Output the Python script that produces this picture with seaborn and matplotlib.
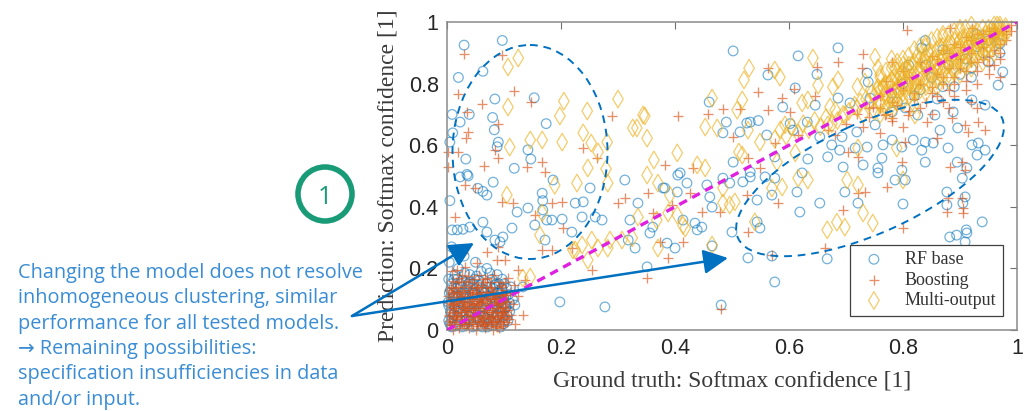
import numpy as np
import pandas as pd
import matplotlib
matplotlib.use("Agg")
import matplotlib.pyplot as plt
import seaborn as sns
from matplotlib.patches import Ellipse, Circle

# --- data: (ground truth, prediction) ---
rf_points = [
    # upper left cloud
    (0.030, 0.925), (0.097, 0.940), (0.020, 0.820), (0.063, 0.840), (0.084, 0.750), (0.153, 0.754),
    (0.009, 0.700), (0.039, 0.700), (0.023, 0.675), (0.080, 0.690), (0.083, 0.650), (0.174, 0.670),
    (0.010, 0.640), (0.005, 0.610), (0.090, 0.610), (0.088, 0.595), (0.142, 0.585), (0.147, 0.555),
    (0.033, 0.555), (0.118, 0.525), (0.035, 0.505), (0.023, 0.497), (0.037, 0.500), (0.081, 0.480),
    (0.063, 0.450), (0.054, 0.460), (0.070, 0.438), (0.005, 0.420), (0.123, 0.383), (0.167, 0.444),
    (0.168, 0.420), (0.063, 0.350), (0.009, 0.325), (0.018, 0.325), (0.028, 0.327), (0.040, 0.334),
    (0.070, 0.318), (0.084, 0.292), (0.098, 0.302), (0.093, 0.286), (0.114, 0.331), (0.154, 0.341),
    (0.175, 0.357), (0.184, 0.357), (0.202, 0.360), (0.225, 0.412), (0.239, 0.416), (0.237, 0.367),
    (0.260, 0.367), (0.272, 0.357), (0.321, 0.357), (0.312, 0.487), (0.172, 0.292), (0.219, 0.318),
    (0.168, 0.390), (0.142, 0.396), (0.198, 0.091), (0.277, 0.075), (0.119, 0.081), (0.110, 0.087),
    (0.133, 0.140), (0.318, 0.292), (0.251, 0.461), (0.186, 0.487), (0.379, 0.461),
    (0.004, 0.220), (0.008, 0.270), (0.030, 0.240), (0.070, 0.200), (0.050, 0.220),
    # lower left cluster
    (0.005, 0.02), (0.012, 0.05), (0.020, 0.11), (0.028, 0.08), (0.035, 0.14), (0.042, 0.03),
    (0.050, 0.10), (0.058, 0.06), (0.065, 0.13), (0.072, 0.02), (0.080, 0.09), (0.088, 0.05),
    (0.095, 0.12), (0.102, 0.07), (0.008, 0.15), (0.015, 0.09), (0.024, 0.03), (0.031, 0.12),
    (0.038, 0.06), (0.046, 0.15), (0.053, 0.04), (0.061, 0.11), (0.068, 0.07), (0.076, 0.14),
    (0.084, 0.03), (0.091, 0.10), (0.099, 0.02), (0.104, 0.11), (0.003, 0.08), (0.011, 0.12),
    (0.019, 0.06), (0.027, 0.16), (0.034, 0.09), (0.044, 0.12), (0.056, 0.16), (0.066, 0.04),
    (0.074, 0.11), (0.086, 0.15), (0.093, 0.06), (0.100, 0.15), (0.006, 0.13), (0.040, 0.18),
    (0.060, 0.19), (0.020, 0.20), (0.088, 0.18), (0.107, 0.03), (0.047, 0.07), (0.079, 0.055),
    (0.016, 0.015), (0.062, 0.01),
    (0.008, 0.010), (0.027, 0.010), (0.045, 0.010), (0.071, 0.010), (0.094, 0.010),
    (0.003, 0.030), (0.031, 0.030), (0.058, 0.030), (0.077, 0.030), (0.101, 0.030),
    (0.018, 0.045), (0.039, 0.045), (0.064, 0.045), (0.089, 0.045), (0.106, 0.045),
    (0.006, 0.060), (0.028, 0.060), (0.051, 0.060), (0.073, 0.060), (0.097, 0.060),
    (0.014, 0.075), (0.036, 0.075), (0.059, 0.075), (0.083, 0.075), (0.104, 0.075),
    (0.002, 0.090), (0.022, 0.090), (0.047, 0.090), (0.069, 0.090), (0.092, 0.090),
    (0.011, 0.105), (0.033, 0.105), (0.056, 0.105), (0.078, 0.105), (0.099, 0.105),
    (0.004, 0.120), (0.025, 0.120), (0.049, 0.120), (0.066, 0.120), (0.088, 0.120),
    (0.016, 0.135), (0.042, 0.135), (0.061, 0.135), (0.081, 0.135), (0.096, 0.135),
    (0.023, 0.150), (0.037, 0.150), (0.069, 0.150), (0.091, 0.150),
    (0.012, 0.165), (0.048, 0.165), (0.079, 0.165),
    (0.009, 0.040), (0.021, 0.070), (0.032, 0.020), (0.043, 0.055), (0.054, 0.085), (0.065, 0.025),
    (0.076, 0.065), (0.087, 0.095), (0.098, 0.045), (0.105, 0.135), (0.013, 0.110), (0.024, 0.140),
    (0.035, 0.035), (0.046, 0.115), (0.057, 0.145), (0.068, 0.095), (0.079, 0.015), (0.090, 0.125),
    (0.101, 0.085), (0.007, 0.055), (0.018, 0.165), (0.029, 0.105), (0.040, 0.155), (0.051, 0.015),
    (0.062, 0.125), (0.073, 0.035), (0.084, 0.145), (0.095, 0.075), (0.003, 0.165), (0.108, 0.115),
    (0.110, 0.060), (0.112, 0.140), (0.115, 0.100), (0.052, 0.175), (0.031, 0.185), (0.075, 0.185),
    (0.097, 0.165), (0.014, 0.180),
    # middle
    (0.502, 0.906), (0.616, 0.890), (0.563, 0.828), (0.649, 0.830), (0.611, 0.786), (0.460, 0.740),
    (0.589, 0.724), (0.646, 0.730), (0.490, 0.675), (0.484, 0.640), (0.526, 0.672), (0.532, 0.675),
    (0.546, 0.680), (0.514, 0.643), (0.561, 0.633), (0.602, 0.670), (0.607, 0.649), (0.632, 0.675),
    (0.654, 0.627), (0.502, 0.545), (0.575, 0.562), (0.633, 0.555), (0.409, 0.510), (0.532, 0.513),
    (0.405, 0.503), (0.421, 0.477), (0.382, 0.461), (0.404, 0.448), (0.335, 0.412), (0.456, 0.471),
    (0.484, 0.493), (0.496, 0.477), (0.519, 0.481), (0.532, 0.497), (0.558, 0.497), (0.575, 0.493),
    (0.570, 0.438), (0.544, 0.422), (0.461, 0.432), (0.465, 0.399), (0.414, 0.357), (0.435, 0.347),
    (0.447, 0.334), (0.439, 0.325), (0.361, 0.334), (0.356, 0.315), (0.386, 0.282), (0.400, 0.266),
    (0.330, 0.266), (0.500, 0.318), (0.544, 0.351), (0.549, 0.331), (0.465, 0.273), (0.528, 0.234),
    (0.575, 0.156), (0.351, 0.205), (0.481, 0.081), (0.614, 0.448), (0.619, 0.383), (0.654, 0.412),
    (0.623, 0.510), (0.570, 0.240),
    # right
    (0.667, 0.231), (0.882, 0.302), (0.894, 0.308), (0.912, 0.315), (0.909, 0.286), (0.939, 0.351),
    (0.800, 0.409), (0.877, 0.406), (0.905, 0.412), (0.698, 0.448), (0.721, 0.412), (0.877, 0.448),
    (0.909, 0.432), (0.911, 0.325), (0.756, 0.510), (0.786, 0.487), (0.804, 0.487), (0.904, 0.493),
    (0.686, 0.916), (0.839, 0.940), (0.833, 0.916), (0.737, 0.834), (0.739, 0.805), (0.686, 0.753),
    (0.707, 0.737), (0.742, 0.753), (0.975, 0.838), (0.967, 0.795), (0.921, 0.747), (0.944, 0.730),
    (0.781, 0.708), (0.804, 0.721), (0.826, 0.698), (0.856, 0.698), (0.888, 0.708), (0.751, 0.666),
    (0.719, 0.643), (0.693, 0.627), (0.675, 0.601), (0.689, 0.584), (0.716, 0.591), (0.737, 0.594),
    (0.765, 0.601), (0.781, 0.617), (0.818, 0.617), (0.833, 0.584), (0.839, 0.610), (0.853, 0.607),
    (0.865, 0.649), (0.896, 0.656), (0.921, 0.601), (0.932, 0.607), (0.930, 0.568), (0.944, 0.584),
    (0.763, 0.558), (0.730, 0.536), (0.798, 0.519), (0.695, 0.529), (0.756, 0.526), (0.668, 0.562),
    (0.839, 0.545), (0.895, 0.545), (0.912, 0.526), (0.798, 0.594), (0.879, 0.591),
    (0.80, 0.80), (0.85, 0.82), (0.88, 0.86), (0.91, 0.88), (0.93, 0.92), (0.95, 0.94), (0.82, 0.76),
    (0.87, 0.79), (0.90, 0.83), (0.94, 0.90), (0.96, 0.96), (0.78, 0.77), (0.84, 0.86), (0.92, 0.85),
    (0.97, 0.93), (0.79, 0.74), (0.83, 0.78), (0.86, 0.75), (0.89, 0.79), (0.92, 0.82), (0.95, 0.87),
    (0.97, 0.90), (0.81, 0.86), (0.87, 0.91), (0.93, 0.96),
]

boost_points = [
    # upper left cloud
    (0.030, 0.896), (0.097, 0.893), (0.020, 0.766), (0.118, 0.776), (0.061, 0.734), (0.035, 0.708),
    (0.147, 0.740), (0.090, 0.670), (0.037, 0.643), (0.033, 0.623), (0.002, 0.578), (0.020, 0.578),
    (0.084, 0.584), (0.090, 0.558), (0.167, 0.545), (0.065, 0.532), (0.140, 0.529), (0.239, 0.590),
    (0.263, 0.558), (0.172, 0.513), (0.002, 0.530), (0.032, 0.470), (0.049, 0.460), (0.014, 0.367),
    (0.028, 0.250), (0.070, 0.253), (0.088, 0.227), (0.053, 0.217), (0.032, 0.205), (0.018, 0.195),
    (0.102, 0.227), (0.097, 0.416), (0.116, 0.412), (0.202, 0.416), (0.154, 0.373), (0.184, 0.412),
    (0.204, 0.331), (0.300, 0.412), (0.312, 0.428), (0.219, 0.266), (0.125, 0.195), (0.107, 0.169),
    (0.137, 0.162), (0.167, 0.260), (0.133, 0.049), (0.184, 0.260), (0.089, 0.270), (0.254, 0.195),
    (0.289, 0.695), (0.426, 0.445),
    # lower left cluster
    (0.004, 0.03), (0.010, 0.07), (0.016, 0.12), (0.022, 0.02), (0.028, 0.09), (0.034, 0.05),
    (0.040, 0.13), (0.046, 0.08), (0.052, 0.03), (0.058, 0.11), (0.064, 0.06), (0.070, 0.14),
    (0.076, 0.04), (0.082, 0.10), (0.088, 0.07), (0.094, 0.13), (0.100, 0.04), (0.106, 0.09),
    (0.007, 0.10), (0.013, 0.04), (0.019, 0.14), (0.025, 0.06), (0.031, 0.11), (0.037, 0.02),
    (0.043, 0.10), (0.049, 0.05), (0.055, 0.14), (0.061, 0.09), (0.067, 0.02), (0.073, 0.08),
    (0.079, 0.12), (0.085, 0.03), (0.091, 0.09), (0.097, 0.06), (0.103, 0.12), (0.003, 0.13),
    (0.015, 0.08), (0.027, 0.13), (0.039, 0.07), (0.051, 0.12), (0.063, 0.04), (0.075, 0.10),
    (0.087, 0.01), (0.099, 0.10), (0.045, 0.02), (0.057, 0.07), (0.069, 0.11), (0.081, 0.06),
    (0.093, 0.03), (0.033, 0.16), (0.021, 0.17), (0.009, 0.19), (0.071, 0.17), (0.113, 0.05),
    (0.120, 0.02), (0.011, 0.00), (0.050, 0.00), (0.080, 0.00),
    (0.021, 0.005), (0.038, 0.005), (0.066, 0.005), (0.092, 0.005),
    (0.006, 0.020), (0.029, 0.020), (0.055, 0.020), (0.078, 0.020), (0.098, 0.020),
    (0.015, 0.035), (0.041, 0.035), (0.062, 0.035), (0.087, 0.035), (0.108, 0.035),
    (0.003, 0.050), (0.024, 0.050), (0.046, 0.050), (0.071, 0.050), (0.095, 0.050),
    (0.012, 0.065), (0.035, 0.065), (0.054, 0.065), (0.079, 0.065), (0.101, 0.065),
    (0.006, 0.080), (0.027, 0.080), (0.048, 0.080), (0.066, 0.080), (0.090, 0.080),
    (0.017, 0.095), (0.038, 0.095), (0.059, 0.095), (0.083, 0.095), (0.104, 0.095),
    (0.002, 0.110), (0.025, 0.110), (0.044, 0.110), (0.072, 0.110), (0.094, 0.110),
    (0.013, 0.125), (0.036, 0.125), (0.060, 0.125), (0.085, 0.125),
    (0.007, 0.140), (0.029, 0.140), (0.050, 0.140), (0.077, 0.140), (0.097, 0.140),
    (0.016, 0.155), (0.043, 0.155), (0.064, 0.155), (0.089, 0.155),
    (0.026, 0.180), (0.057, 0.180), (0.083, 0.180),
    (0.005, 0.015), (0.017, 0.045), (0.029, 0.075), (0.041, 0.105), (0.053, 0.135), (0.065, 0.015),
    (0.077, 0.045), (0.089, 0.085), (0.101, 0.115), (0.011, 0.135), (0.023, 0.105), (0.035, 0.085),
    (0.047, 0.045), (0.059, 0.025), (0.071, 0.065), (0.083, 0.115), (0.095, 0.145), (0.107, 0.065),
    (0.009, 0.085), (0.021, 0.125), (0.033, 0.035), (0.045, 0.065), (0.057, 0.095), (0.069, 0.125),
    (0.081, 0.025), (0.093, 0.055), (0.105, 0.025), (0.015, 0.055), (0.027, 0.025), (0.039, 0.145),
    (0.051, 0.085), (0.063, 0.105), (0.075, 0.135), (0.087, 0.045), (0.099, 0.075), (0.004, 0.045),
    (0.018, 0.095), (0.031, 0.065), (0.044, 0.125), (0.058, 0.045), (0.072, 0.025), (0.086, 0.105),
    (0.096, 0.115), (0.062, 0.145), (0.024, 0.155), (0.047, 0.165), (0.078, 0.155), (0.102, 0.155),
    (0.010, 0.160), (0.036, 0.175), (0.066, 0.165), (0.111, 0.125), (0.116, 0.085), (0.118, 0.145),
    (0.125, 0.110),
    (0.014, 0.012), (0.033, 0.012), (0.052, 0.012), (0.069, 0.012), (0.086, 0.012), (0.099, 0.012),
    (0.009, 0.027), (0.026, 0.027), (0.044, 0.027), (0.061, 0.027), (0.079, 0.027), (0.094, 0.027),
    (0.017, 0.042), (0.036, 0.042), (0.055, 0.042), (0.073, 0.042), (0.090, 0.042), (0.103, 0.042),
    (0.006, 0.057), (0.022, 0.057), (0.041, 0.057), (0.066, 0.057), (0.084, 0.057), (0.098, 0.057),
    (0.013, 0.072), (0.032, 0.072), (0.049, 0.072), (0.068, 0.072), (0.087, 0.072), (0.101, 0.072),
    (0.004, 0.087), (0.021, 0.087), (0.040, 0.087), (0.058, 0.087), (0.077, 0.087), (0.094, 0.087),
    (0.012, 0.102), (0.030, 0.102), (0.053, 0.102), (0.070, 0.102), (0.088, 0.102),
    (0.008, 0.117), (0.027, 0.117), (0.046, 0.117), (0.064, 0.117), (0.081, 0.117), (0.099, 0.117),
    # middle
    (0.563, 0.850), (0.649, 0.853), (0.405, 0.695), (0.458, 0.701), (0.484, 0.717), (0.514, 0.717),
    (0.546, 0.773), (0.563, 0.714), (0.588, 0.753), (0.602, 0.708), (0.609, 0.782), (0.646, 0.760),
    (0.502, 0.627), (0.575, 0.607), (0.616, 0.633), (0.382, 0.536), (0.528, 0.558), (0.549, 0.526),
    (0.432, 0.526), (0.353, 0.445), (0.447, 0.383), (0.479, 0.383), (0.526, 0.438), (0.528, 0.318),
    (0.581, 0.412), (0.570, 0.243), (0.374, 0.286), (0.414, 0.286), (0.388, 0.234), (0.351, 0.169),
    (0.481, 0.068), (0.395, 0.406), (0.361, 0.380),
    # right
    (0.663, 0.266), (0.800, 0.331), (0.877, 0.383), (0.905, 0.380), (0.695, 0.390), (0.772, 0.464),
    (0.733, 0.448), (0.721, 0.445), (0.879, 0.429), (0.904, 0.429), (0.905, 0.396),
    (0.882, 0.980), (0.921, 0.980), (0.807, 0.974), (0.686, 0.870), (0.730, 0.896), (0.781, 0.870),
    (0.728, 0.851), (0.747, 0.724), (0.768, 0.698), (0.781, 0.688), (0.809, 0.698), (0.842, 0.675),
    (0.886, 0.688), (0.909, 0.666), (0.932, 0.675), (0.914, 0.643), (0.804, 0.610), (0.860, 0.623),
    (0.904, 0.545), (0.909, 0.519), (0.882, 0.529), (0.798, 0.545), (0.721, 0.562), (0.703, 0.578),
    (0.668, 0.649), (0.681, 0.633), (0.930, 0.721), (0.944, 0.649),
    (0.78, 0.74), (0.80, 0.78), (0.82, 0.75), (0.83, 0.80), (0.85, 0.77), (0.86, 0.83), (0.87, 0.80),
    (0.88, 0.85), (0.89, 0.82), (0.90, 0.88), (0.91, 0.84), (0.92, 0.90), (0.93, 0.87), (0.94, 0.92),
    (0.95, 0.89), (0.96, 0.95), (0.97, 0.93), (0.975, 0.97), (0.96, 0.98), (0.94, 0.96), (0.92, 0.94),
    (0.90, 0.92), (0.88, 0.90), (0.86, 0.88), (0.84, 0.84), (0.81, 0.82), (0.79, 0.80), (0.76, 0.76),
    (0.74, 0.72), (0.77, 0.70), (0.83, 0.72), (0.87, 0.74), (0.91, 0.78), (0.95, 0.83), (0.97, 0.88),
    (0.93, 0.80), (0.89, 0.76), (0.85, 0.70), (0.98, 0.96), (0.99, 0.99),
    (0.74, 0.69), (0.76, 0.72), (0.78, 0.68), (0.79, 0.73), (0.81, 0.71), (0.82, 0.77), (0.84, 0.74),
    (0.85, 0.79), (0.86, 0.76), (0.87, 0.82), (0.88, 0.78), (0.89, 0.80), (0.90, 0.85), (0.91, 0.81),
    (0.92, 0.87), (0.93, 0.84), (0.94, 0.88), (0.95, 0.86), (0.96, 0.91), (0.97, 0.90), (0.98, 0.94),
    (0.95, 0.97), (0.93, 0.96), (0.91, 0.95), (0.89, 0.93), (0.87, 0.91), (0.85, 0.89), (0.83, 0.87),
    (0.80, 0.84), (0.77, 0.81), (0.72, 0.70), (0.70, 0.67), (0.73, 0.66), (0.76, 0.64), (0.80, 0.66),
    (0.88, 0.72), (0.92, 0.74), (0.96, 0.86), (0.97, 0.82), (0.99, 0.97),
]

multi_points = [
    # upper left cloud
    (0.125, 0.883), (0.107, 0.854), (0.107, 0.724), (0.205, 0.743), (0.198, 0.695), (0.246, 0.711),
    (0.239, 0.640), (0.146, 0.617), (0.167, 0.617), (0.202, 0.610), (0.110, 0.594), (0.253, 0.607),
    (0.265, 0.578), (0.281, 0.610), (0.247, 0.526), (0.279, 0.523), (0.326, 0.656), (0.300, 0.750),
    (0.344, 0.698), (0.105, 0.438), (0.228, 0.477), (0.282, 0.477), (0.167, 0.380), (0.189, 0.470),
    (0.163, 0.308), (0.225, 0.260), (0.247, 0.227), (0.265, 0.266), (0.237, 0.276), (0.282, 0.266),
    (0.146, 0.172), (0.133, 0.169), (0.307, 0.292), (0.254, 0.292), (0.325, 0.299), (0.221, 0.260),
    (0.286, 0.292), (0.414, 0.340), (0.368, 0.357),
    # middle
    (0.530, 0.850), (0.521, 0.812), (0.575, 0.844), (0.584, 0.821), (0.642, 0.883), (0.651, 0.795),
    (0.347, 0.695), (0.333, 0.656), (0.351, 0.623), (0.453, 0.659), (0.465, 0.753), (0.518, 0.747),
    (0.509, 0.714), (0.474, 0.656), (0.549, 0.610), (0.528, 0.649), (0.512, 0.578), (0.518, 0.568),
    (0.404, 0.575), (0.363, 0.552), (0.439, 0.536), (0.453, 0.526), (0.593, 0.666), (0.623, 0.737),
    (0.633, 0.747), (0.611, 0.575), (0.579, 0.545), (0.351, 0.503), (0.370, 0.477), (0.391, 0.438),
    (0.388, 0.380), (0.404, 0.373), (0.418, 0.331), (0.465, 0.276), (0.484, 0.412), (0.496, 0.406),
    (0.505, 0.416), (0.484, 0.461), (0.540, 0.351), (0.370, 0.266), (0.335, 0.367), (0.588, 0.464),
    (0.570, 0.461), (0.616, 0.493), (0.633, 0.487),
    # right
    (0.667, 0.325), (0.684, 0.350), (0.698, 0.334), (0.730, 0.380), (0.747, 0.347), (0.702, 0.487),
    (0.721, 0.471), (0.800, 0.487), (0.751, 0.886), (0.786, 0.851), (0.756, 0.851), (0.686, 0.812),
    (0.677, 0.789), (0.733, 0.805), (0.756, 0.789), (0.672, 0.724), (0.681, 0.714), (0.765, 0.786),
    (0.781, 0.753), (0.698, 0.698), (0.789, 0.591), (0.721, 0.591), (0.668, 0.666), (0.821, 0.789),
    (0.821, 0.698),
    # dense band along the diagonal
    (0.72, 0.72), (0.73, 0.70), (0.74, 0.74), (0.75, 0.71), (0.75, 0.76), (0.76, 0.73), (0.77, 0.77),
    (0.77, 0.74), (0.78, 0.79), (0.78, 0.75), (0.79, 0.78), (0.79, 0.81), (0.80, 0.77), (0.80, 0.82),
    (0.81, 0.79), (0.81, 0.84), (0.82, 0.81), (0.82, 0.78), (0.83, 0.83), (0.83, 0.86), (0.84, 0.80),
    (0.84, 0.85), (0.85, 0.83), (0.85, 0.87), (0.86, 0.85), (0.86, 0.82), (0.87, 0.88), (0.87, 0.84),
    (0.88, 0.86), (0.88, 0.90), (0.89, 0.87), (0.89, 0.84), (0.90, 0.89), (0.90, 0.92), (0.91, 0.87),
    (0.91, 0.91), (0.92, 0.93), (0.92, 0.89), (0.93, 0.91), (0.93, 0.95), (0.94, 0.93), (0.94, 0.90),
    (0.95, 0.95), (0.95, 0.92), (0.96, 0.97), (0.96, 0.94), (0.97, 0.96), (0.97, 0.98), (0.975, 0.95),
    (0.98, 0.985), (0.965, 0.99), (0.955, 0.975), (0.945, 0.96), (0.935, 0.94), (0.925, 0.96),
    (0.915, 0.93), (0.905, 0.95), (0.895, 0.91), (0.885, 0.93), (0.875, 0.90), (0.865, 0.92),
    (0.855, 0.88), (0.845, 0.90), (0.835, 0.87), (0.825, 0.89), (0.815, 0.86), (0.805, 0.85),
    (0.795, 0.83), (0.785, 0.82), (0.775, 0.80), (0.765, 0.79), (0.755, 0.78), (0.745, 0.77),
    (0.735, 0.75), (0.725, 0.74), (0.715, 0.73), (0.705, 0.71), (0.695, 0.70), (0.685, 0.68),
    (0.675, 0.67), (0.665, 0.69), (0.655, 0.66), (0.645, 0.68), (0.635, 0.65), (0.625, 0.67),
    (0.615, 0.64), (0.605, 0.66), (0.595, 0.63), (0.585, 0.65), (0.575, 0.62),
    (0.80, 0.74), (0.84, 0.77), (0.88, 0.81), (0.92, 0.85), (0.96, 0.90), (0.86, 0.79), (0.90, 0.83),
    (0.94, 0.87), (0.82, 0.73), (0.78, 0.71), (0.80, 0.86), (0.84, 0.92), (0.87, 0.95), (0.90, 0.97),
    (0.76, 0.83), (0.72, 0.79),
    (0.76, 0.70), (0.76, 0.74), (0.76, 0.78), (0.76, 0.82), (0.77, 0.72), (0.77, 0.76), (0.77, 0.80),
    (0.77, 0.84), (0.78, 0.73), (0.78, 0.77), (0.78, 0.81), (0.78, 0.85), (0.78, 0.88), (0.79, 0.74),
    (0.79, 0.76), (0.79, 0.79), (0.79, 0.84), (0.79, 0.87), (0.80, 0.75), (0.80, 0.79), (0.80, 0.80),
    (0.80, 0.84), (0.80, 0.88), (0.81, 0.76), (0.81, 0.80), (0.81, 0.82), (0.81, 0.86), (0.81, 0.89),
    (0.82, 0.77), (0.82, 0.80), (0.82, 0.83), (0.82, 0.87), (0.82, 0.91), (0.83, 0.78), (0.83, 0.81),
    (0.83, 0.84), (0.83, 0.88), (0.83, 0.92), (0.84, 0.79), (0.84, 0.82), (0.84, 0.87), (0.84, 0.89),
    (0.84, 0.93), (0.85, 0.80), (0.85, 0.84), (0.85, 0.86), (0.85, 0.90), (0.85, 0.94), (0.86, 0.81),
    (0.86, 0.84), (0.86, 0.87), (0.86, 0.91), (0.86, 0.95), (0.87, 0.82), (0.87, 0.86), (0.87, 0.89),
    (0.87, 0.92), (0.87, 0.96), (0.88, 0.83), (0.88, 0.87), (0.88, 0.89), (0.88, 0.93), (0.88, 0.96),
    (0.89, 0.85), (0.89, 0.88), (0.89, 0.90), (0.89, 0.94), (0.89, 0.97), (0.90, 0.86), (0.90, 0.88),
    (0.90, 0.91), (0.90, 0.94), (0.90, 0.98), (0.91, 0.86), (0.91, 0.89), (0.91, 0.93), (0.91, 0.95),
    (0.91, 0.98), (0.92, 0.88), (0.92, 0.91), (0.92, 0.94), (0.92, 0.96), (0.92, 0.99), (0.93, 0.89),
    (0.93, 0.92), (0.93, 0.94), (0.93, 0.97), (0.94, 0.90), (0.94, 0.92), (0.94, 0.95), (0.94, 0.98),
    (0.95, 0.90), (0.95, 0.93), (0.95, 0.96), (0.95, 0.98), (0.96, 0.92), (0.96, 0.95), (0.96, 0.96),
    (0.96, 0.99), (0.97, 0.94), (0.97, 0.95), (0.97, 0.97), (0.97, 0.99), (0.98, 0.96), (0.98, 0.975),
]

series_names = ["RF base", "Boosting", "Multi-output"]
diag = [0, 1]
ticks = [0, 0.2, 0.4, 0.6, 0.8, 1]
tick_labels = ["0", "0.2", "0.4", "0.6", "0.8", "1"]

note_lines = [
    "Changing the model does not resolve",
    "inhomogeneous clustering, similar",
    "performance for all tested models.",
    "\u2192 Remaining possibilities:",
    "specification insufficiencies in data",
    "and/or input.",
]

# --- figure ---
sns.set_style("white")
fig = plt.figure(figsize=(10.25, 4.11), dpi=100)
ax = fig.add_axes([447 / 1025, 81 / 411, 570 / 1025, 308 / 411])

blue = "#0072BD"
red = "#D95319"
yellow = "#EDB120"

rf = pd.DataFrame(rf_points, columns=["truth", "pred"])
bo = pd.DataFrame(boost_points, columns=["truth", "pred"])
mo = pd.DataFrame(multi_points, columns=["truth", "pred"])

sns.scatterplot(data=rf, x="truth", y="pred", ax=ax, marker="o", s=48,
                facecolor="none", edgecolor=blue, linewidth=0.9, alpha=0.55,
                label=series_names[0], clip_on=False)
sns.scatterplot(data=bo, x="truth", y="pred", ax=ax, marker="+", s=50,
                color=red, linewidth=0.95, alpha=0.65, label=series_names[1],
                clip_on=False)
sns.scatterplot(data=mo, x="truth", y="pred", ax=ax, marker="d", s=80,
                facecolor="none", edgecolor=yellow, linewidth=0.9, alpha=0.65,
                label=series_names[2], clip_on=False)

ax.plot(diag, diag, color="#E020E0", lw=2.4, dashes=(2.6, 1.8), zorder=5)

ax.set_xlim(0, 1)
ax.set_ylim(0, 1)
ax.set_xticks(ticks)
ax.set_yticks(ticks)
ax.set_xticklabels(tick_labels, fontfamily="Liberation Sans", fontsize=15.5, color="#262626")
ax.set_yticklabels(tick_labels, fontfamily="Liberation Sans", fontsize=15.5, color="#262626")
ax.tick_params(direction="in", length=5, width=0.8, color="#707070",
               top=True, right=True, pad=6)
for sp in ax.spines.values():
    sp.set_color("#8a8a8a")
    sp.set_linewidth(1.1)

ax.set_xlabel("Ground truth: Softmax confidence [1]", fontfamily="Liberation Serif",
              fontsize=17, color="#3a3a3a")
ax.set_ylabel("Prediction: Softmax confidence [1]", fontfamily="Liberation Serif",
              fontsize=17, color="#3a3a3a")
ax.xaxis.set_label_coords(0.5, -0.13)
ax.yaxis.set_label_coords(-0.085, 0.5)

leg = ax.legend(loc="lower right", prop={"family": "Liberation Serif", "size": 13},
                fancybox=False, framealpha=1, edgecolor="#404040",
                borderaxespad=0.8, handletextpad=0.7, labelspacing=0.2,
                borderpad=0.35, handlelength=2.0)
leg.get_frame().set_linewidth(0.9)
leg.set_zorder(20)
for t in leg.get_texts():
    t.set_color("#333333")

# --- overlay annotations in pixel coordinates ---
ov = fig.add_axes([0, 0, 1, 1], zorder=10)
ov.set_xlim(0, 1025)
ov.set_ylim(411, 0)
ov.axis("off")
ov.patch.set_alpha(0)

ann_blue = "#0070C0"
ov.add_patch(Ellipse((530, 152), 155, 214, angle=0, fill=False, ec=ann_blue,
                     lw=1.4, ls=(0, (4, 3))))
ov.add_patch(Ellipse((870, 178), 290, 110, angle=-24.5, fill=False, ec=ann_blue,
                     lw=1.4, ls=(0, (4, 3))))

for tip in [(474, 243), (728, 258)]:
    ov.annotate("", xy=tip, xytext=(352, 316),
                arrowprops=dict(arrowstyle="-|>,head_length=1.0,head_width=0.5",
                                color=ann_blue, lw=1.8, shrinkA=0, shrinkB=0,
                                mutation_scale=15))

green = "#1A9B77"
ov.add_patch(Circle((325, 194), 27, fill=False, ec=green, lw=4))
ov.text(325, 197, "1", ha="center", va="center", fontsize=18, color=green,
        fontfamily="Open Sans")

for i, line in enumerate(note_lines):
    ov.text(18, 273 + i * 25.3, line, ha="left", va="center", fontsize=14.3,
            color="#3a8dd4", fontfamily=["Open Sans", "DejaVu Sans"])

fig.savefig("out.png", dpi=100)
